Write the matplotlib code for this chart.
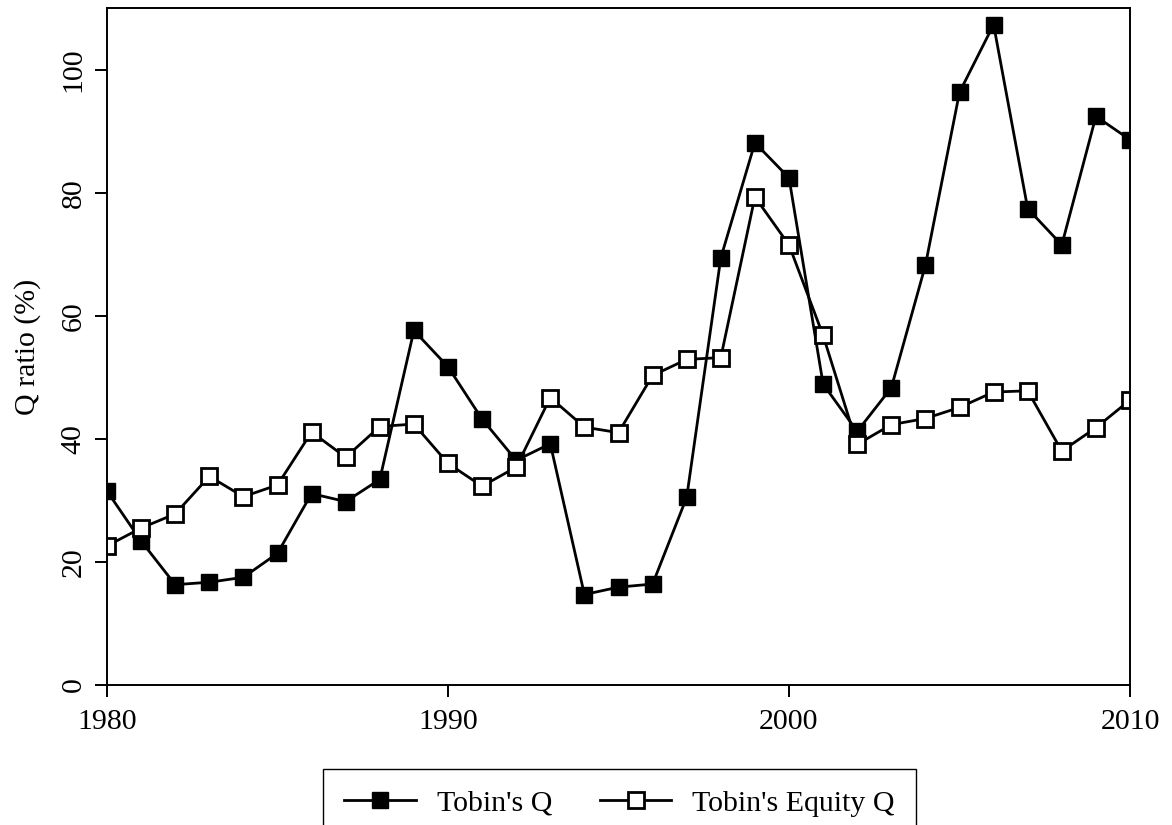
import matplotlib
matplotlib.use("Agg")
import matplotlib.pyplot as plt

# 年次データ
years = list(range(1980, 2011))
tobins_q = [31.5, 23.4, 16.3, 16.7, 17.5, 21.4, 31.1, 29.8, 33.4, 57.6,
            51.7, 43.2, 36.5, 39.2, 14.7, 15.9, 16.4, 30.5, 69.4, 88.1,
            82.4, 48.9, 41.2, 48.3, 68.2, 96.3, 107.3, 77.4, 71.5, 92.4,
            88.6]
equity_q = [22.6, 25.5, 27.8, 33.9, 30.6, 32.5, 41.1, 37.0, 42.0, 42.4,
            36.0, 32.3, 35.4, 46.7, 41.9, 41.0, 50.3, 52.9, 53.2, 79.3,
            71.5, 56.8, 39.1, 42.3, 43.3, 45.1, 47.6, 47.8, 38.0, 41.8,
            46.3]
x_ticks = [1980, 1990, 2000, 2010]
y_ticks = [0, 20, 40, 60, 80, 100]

plt.rcParams["font.family"] = ["Liberation Serif", "DejaVu Serif"]

fig = plt.figure(figsize=(11.72, 8.25), dpi=100)
ax = fig.add_axes([107 / 1172, 140 / 825, 1023 / 1172, 677 / 825])

ax.plot(years, tobins_q, "-", color="black", linewidth=2.0,
        marker="s", markersize=12, markerfacecolor="black",
        markeredgecolor="black", label="Tobin's Q")
ax.plot(years, equity_q, "-", color="black", linewidth=2.0,
        marker="s", markersize=11, markerfacecolor="white",
        markeredgecolor="black", markeredgewidth=2.0,
        label="Tobin's Equity Q")

ax.set_xlim(1980, 2010)
ax.set_ylim(0, 110)
ax.set_xticks(x_ticks)
ax.set_yticks(y_ticks)
ax.tick_params(axis="both", direction="out", length=8.5, width=1.4,
               labelsize=21.5)
ax.tick_params(axis="x", pad=9)
ax.tick_params(axis="y", pad=6)
for lbl in ax.get_yticklabels():
    lbl.set_rotation(90)
    lbl.set_verticalalignment("center")
ax.set_ylabel("Q ratio (%)", fontsize=21.5, labelpad=14)
for sp in ax.spines.values():
    sp.set_linewidth(1.4)

fig.legend(loc="upper center", bbox_to_anchor=(619.5 / 1172, 1 - 769 / 825),
           ncol=2, fontsize=21.5, frameon=True, fancybox=False,
           edgecolor="black", framealpha=1, handlelength=2.4,
           handletextpad=0.7, columnspacing=1.6, borderpad=0.7,
           borderaxespad=0)

fig.savefig("out.png", dpi=100)
